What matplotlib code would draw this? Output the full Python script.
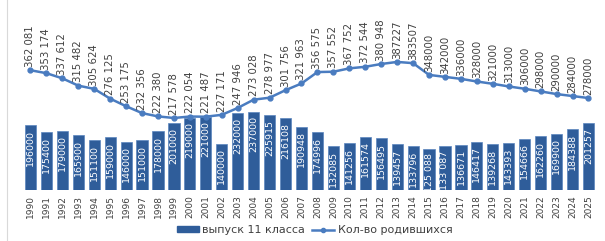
import matplotlib.pyplot as plt
from matplotlib.lines import Line2D

years = [str(y) for y in range(1990, 2026)]

# выпуск 11 класса
graduates = [196000, 175400, 179000, 165900, 151100, 159000, 146000, 151000,
             178000, 201000, 219000, 221000, 140000, 232000, 237000, 225915,
             216108, 190948, 174996, 132085, 141256, 161574, 156495, 139457,
             133796, 125088, 133087, 136671, 146417, 139268, 143393, 154666,
             162260, 169900, 184388, 201257]

# Кол-во родившихся
births = [362081, 353174, 337612, 315482, 305624, 276125, 253175, 232356,
          222380, 217578, 222054, 221487, 227171, 247946, 273028, 278977,
          301756, 321963, 356575, 357552, 367752, 372544, 380948, 387227,
          383507, 348000, 342000, 336000, 328000, 321000, 313000, 306000,
          298000, 290000, 284000, 278000]

# подписи как на исходной картинке (где-то с пробелом, где-то без)
grad_labels = ['196000', '175400', '179000', '165900', '151100', '159000', '146000', '151000',
               '178000', '201000', '219000', '221000', '140000', '232000', '237000', '225915',
               '216108', '190948', '174996', '132085', '141256', '161574', '156495', '139457',
               '133796', '125 088', '133 087', '136671', '146417', '139268', '143393', '154666',
               '162260', '169900', '184388', '201257']
birth_labels = ['362 081', '353 174', '337 612', '315 482', '305 624', '276 125', '253 175',
                '232 356', '222 380', '217 578', '222 054', '221 487', '227 171', '247 946',
                '273 028', '278 977', '301 756', '321 963', '356 575', '357 552', '367 752',
                '372 544', '380 948', '387227', '383507', '348000', '342000', '336000',
                '328000', '321000', '313000', '306000', '298000', '290000', '284000', '278000']

bar_color = '#2F5D9A'
line_color = '#4A7CC0'
text_color = '#404040'

fig = plt.figure(figsize=(6.05, 2.41), dpi=100)
ax = fig.add_axes([0.0345, 0.212, 0.954, 0.768])

x = range(len(years))
ax.bar(x, graduates, width=0.7, color=bar_color, edgecolor='#5B86BE', linewidth=0.5)
ax.plot(x, births, color=line_color, marker='o', markersize=3.5, linewidth=1.8)

for i in x:
    ax.text(i, graduates[i] - 14000, grad_labels[i], rotation=90, ha='center', va='top',
            color='white', fontsize=6.8)
    ax.text(i, births[i] + 10000, birth_labels[i], rotation=90, ha='center', va='bottom',
            color=text_color, fontsize=7.3)

ax.set_xlim(-0.6, len(years) - 0.4)
ax.set_ylim(0, 560000)
ax.set_xticks(list(x))
ax.set_xticklabels(years, rotation=90, fontsize=6.5, color=text_color)
ax.tick_params(axis='x', length=0, pad=4)
ax.set_yticks([])
for s in ax.spines.values():
    s.set_visible(False)

# серая рамка слева
fig.add_artist(Line2D([0.012, 0.012], [0.0, 1.0], color='#D9D9D9', linewidth=0.8))

handles = [plt.Rectangle((0, 0), 1, 1, color=bar_color),
           Line2D([0], [0], color=line_color, marker='o', markersize=3, linewidth=1.8)]
fig.legend(handles, ['выпуск 11 класса', 'Кол-во родившихся'], loc='center',
           bbox_to_anchor=(0.52, 0.045), ncol=2, frameon=False, fontsize=8,
           labelcolor=text_color, handlelength=2.0, handleheight=0.5,
           columnspacing=0.6, handletextpad=0.3)

fig.savefig('out.png', dpi=100)
